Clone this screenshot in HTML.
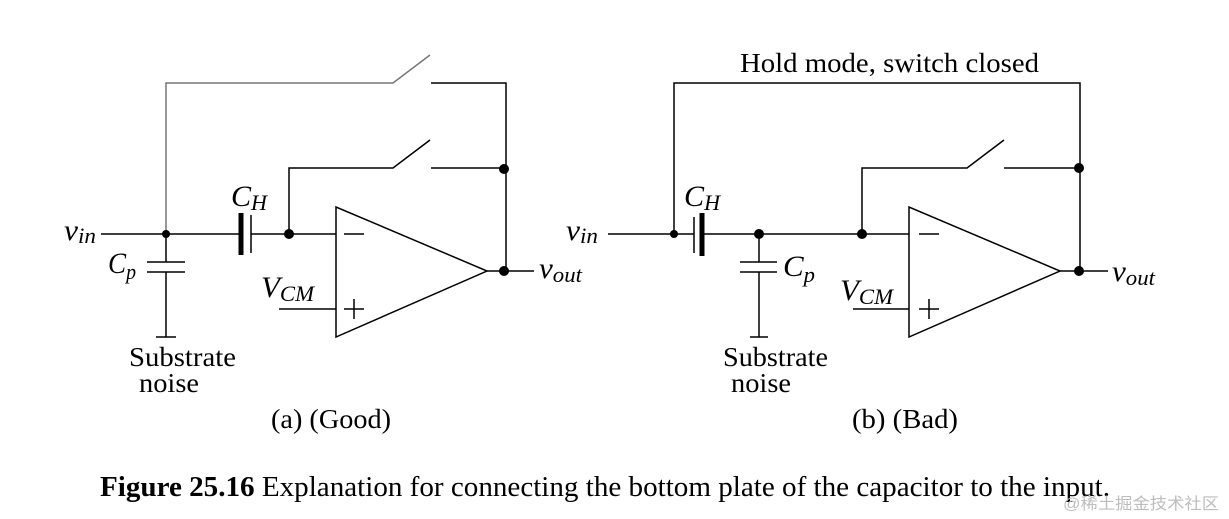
<!DOCTYPE html>
<html><head><meta charset="utf-8"><style>
html,body{margin:0;padding:0;background:#fff;}
svg{display:block;}
text{font-family:"Liberation Serif",serif;fill:#000;}
.i{font-style:italic;}
</style></head><body>
<svg width="1229" height="519" viewBox="0 0 1229 519" xmlns="http://www.w3.org/2000/svg">
<g stroke="#000" stroke-width="1.5" fill="none">
<!-- (a) -->
<polyline points="166,234 166,83 393,83 430,55" stroke="#777"/>
<polyline points="431,83 506,83 506,271"/>
<polyline points="289,234 289,168 393,168 430,140"/>
<line x1="431" y1="168" x2="506" y2="168"/>
<line x1="101" y1="234" x2="241" y2="234"/>
<line x1="251" y1="234" x2="336" y2="234"/>
<line x1="241" y1="213" x2="241" y2="255" stroke-width="5"/>
<line x1="251" y1="215" x2="251" y2="253"/>
<polygon points="336,207 336,337 487,271"/>
<line x1="344" y1="234" x2="364" y2="234"/>
<line x1="344" y1="309" x2="364" y2="309"/><line x1="354" y1="299" x2="354" y2="319"/>
<line x1="279" y1="309" x2="336" y2="309"/>
<line x1="487" y1="271" x2="534" y2="271"/>
<line x1="166" y1="234" x2="166" y2="262"/><line x1="166" y1="272" x2="166" y2="337"/>
<line x1="147" y1="262" x2="185" y2="262"/><line x1="147" y1="272" x2="185" y2="272"/>
<line x1="156" y1="337" x2="176" y2="337"/>
<!-- (b) -->
<polyline points="674,234 674,83 1080,83 1080,271"/>
<line x1="608" y1="234" x2="694" y2="234"/>
<line x1="702" y1="234" x2="909" y2="234"/>
<line x1="694" y1="217" x2="694" y2="253"/>
<line x1="702" y1="213" x2="702" y2="256" stroke-width="5"/>
<polyline points="862,234 862,168 967,168 1004,140"/>
<line x1="1004" y1="168" x2="1080" y2="168"/>
<polygon points="909,207 909,337 1060,271"/>
<line x1="919" y1="234" x2="939" y2="234"/>
<line x1="919" y1="309" x2="939" y2="309"/><line x1="929" y1="299" x2="929" y2="319"/>
<line x1="853" y1="309" x2="909" y2="309"/>
<line x1="1060" y1="271" x2="1108" y2="271"/>
<line x1="759" y1="234" x2="759" y2="262"/><line x1="759" y1="272" x2="759" y2="337"/>
<line x1="740" y1="262" x2="777" y2="262"/><line x1="740" y1="272" x2="777" y2="272"/>
<line x1="750" y1="337" x2="768" y2="337"/>
</g>
<g fill="#000">
<circle cx="166" cy="234" r="4"/><circle cx="289" cy="234" r="5"/><circle cx="504" cy="169" r="5"/><circle cx="504" cy="271" r="5"/>
<circle cx="674" cy="234" r="4"/><circle cx="759" cy="234" r="5"/><circle cx="862" cy="234" r="5"/><circle cx="1079" cy="168" r="5"/><circle cx="1079" cy="271" r="5"/>
</g>
<g font-size="30">
<text x="64" y="240" class="i" textLength="32" lengthAdjust="spacingAndGlyphs">v<tspan font-size="22" dy="3">in</tspan></text>
<text x="108" y="273" class="i" textLength="28" lengthAdjust="spacingAndGlyphs">C<tspan font-size="22" dy="6">p</tspan></text>
<text x="231" y="206" class="i" textLength="36" lengthAdjust="spacingAndGlyphs">C<tspan font-size="22" dy="4">H</tspan></text>
<text x="261" y="297" class="i" textLength="53" lengthAdjust="spacingAndGlyphs">V<tspan font-size="22" dy="4">CM</tspan></text>
<text x="539" y="278" class="i" textLength="43" lengthAdjust="spacingAndGlyphs">v<tspan font-size="22" dy="4">out</tspan></text>
<text x="129" y="366" font-size="27" textLength="107" lengthAdjust="spacingAndGlyphs">Substrate</text>
<text x="139" y="392" font-size="27" textLength="60" lengthAdjust="spacingAndGlyphs">noise</text>
<text x="271" y="428" font-size="27" textLength="120" lengthAdjust="spacingAndGlyphs">(a) (Good)</text>

<text x="740" y="72" font-size="27" textLength="299" lengthAdjust="spacingAndGlyphs">Hold mode, switch closed</text>
<text x="566" y="240" class="i" textLength="32" lengthAdjust="spacingAndGlyphs">v<tspan font-size="22" dy="3">in</tspan></text>
<text x="684" y="206" class="i" textLength="36" lengthAdjust="spacingAndGlyphs">C<tspan font-size="22" dy="4">H</tspan></text>
<text x="783" y="276" class="i" textLength="32" lengthAdjust="spacingAndGlyphs">C<tspan font-size="22" dy="6">p</tspan></text>
<text x="840" y="300" class="i" textLength="53" lengthAdjust="spacingAndGlyphs">V<tspan font-size="22" dy="4">CM</tspan></text>
<text x="1112" y="281" class="i" textLength="43" lengthAdjust="spacingAndGlyphs">v<tspan font-size="22" dy="4">out</tspan></text>
<text x="723" y="366" font-size="27" textLength="105" lengthAdjust="spacingAndGlyphs">Substrate</text>
<text x="731" y="392" font-size="27" textLength="60" lengthAdjust="spacingAndGlyphs">noise</text>
<text x="852" y="428" font-size="27" textLength="106" lengthAdjust="spacingAndGlyphs">(b) (Bad)</text>

<text x="100" y="496" font-size="28" textLength="1010" lengthAdjust="spacingAndGlyphs"><tspan font-weight="bold">Figure 25.16</tspan>  Explanation for connecting the bottom plate of the capacitor to the input.</text>
</g>
<text x="1063" y="509" font-size="16" style="font-family:'Liberation Sans','Noto Sans CJK SC',sans-serif;fill:#bdbdbd" textLength="156" lengthAdjust="spacingAndGlyphs">@稀土掘金技术社区</text>
</svg>
</body></html>
